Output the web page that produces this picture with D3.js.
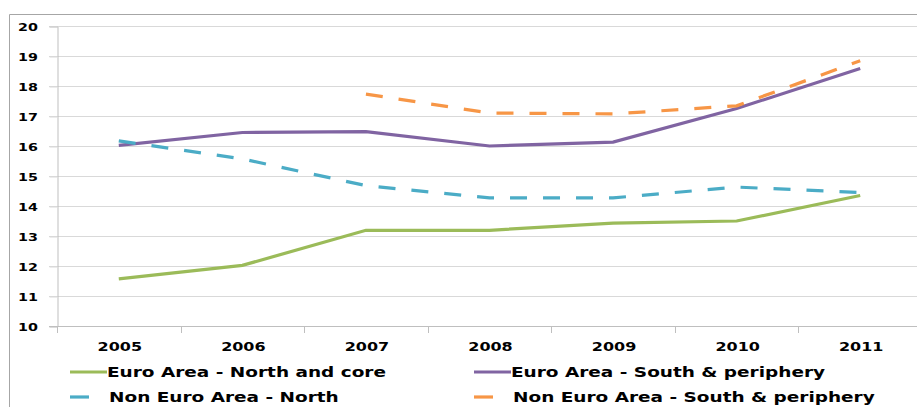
<!DOCTYPE html>
<html>
<head>
<meta charset="utf-8">
<script src="https://cdn.jsdelivr.net/npm/d3@7"></script>
<style>
  body { margin: 0; background: #fff; }
  svg { display: block; }
  svg text { font-family: "DejaVu Sans", Verdana, sans-serif; font-weight: bold; fill: #000; }
</style>
</head>
<body>
<script>
const years = ["2005", "2006", "2007", "2008", "2009", "2010", "2011"];
const yTicks = [10, 11, 12, 13, 14, 15, 16, 17, 18, 19, 20];

const euroNorth = [11.57, 12.02, 13.19, 13.19, 13.43, 13.5, 14.35];
const euroSouth = [16.02, 16.45, 16.48, 16.0, 16.13, 17.25, 18.58];
const nonEuroNorth = [16.17, 15.57, 14.68, 14.27, 14.27, 14.63, 14.45];
const nonEuroSouth = [null, null, 17.73, 17.1, 17.07, 17.34, 18.84];

const series = [
  {name: "Euro Area - North and core", values: euroNorth, color: "#9BBB59", dash: null},
  {name: "Euro Area - South & periphery", values: euroSouth, color: "#8064A2", dash: null},
  {name: "Non Euro Area - North", values: nonEuroNorth, color: "#4BACC6", dash: "17,16"},
  {name: "Non Euro Area - South & periphery", values: nonEuroSouth, color: "#F79646", dash: "17,16"}
];

const width = 917, height = 407;
const stretch = 1.3; // the original text is drawn wide

const svg = d3.select("body").append("svg")
    .attr("width", width)
    .attr("height", height);

// chart frame
svg.append("path")
    .attr("d", `M9.5,${height}V14.5H${width}`)
    .attr("fill", "none")
    .attr("stroke", "#a6a6a6");

const x = d3.scaleBand()
    .domain(years)
    .range([57, 922]);

const y = d3.scaleLinear()
    .domain([10, 20])
    .range([326, 26]);

// gridlines
svg.append("g")
  .selectAll("line")
  .data(yTicks.slice(1))
  .join("line")
    .attr("x1", 49)
    .attr("x2", width)
    .attr("y1", d => Math.round(y(d)) + 0.5)
    .attr("y2", d => Math.round(y(d)) + 0.5)
    .attr("stroke", "#d9d9d9");

// y axis
const yAxis = svg.append("g")
    .attr("transform", "translate(57.5,0.5)")
    .call(d3.axisLeft(y).tickValues(yTicks).tickSize(8));
yAxis.attr("font-family", null).attr("font-size", null);
yAxis.select(".domain").attr("stroke", "#bfbfbf");
yAxis.selectAll(".tick line").attr("stroke", "#d9d9d9");
yAxis.selectAll("text")
    .attr("x", 0)
    .attr("font-size", 11)
    .attr("transform", `translate(-19.5,0) scale(${stretch},1)`);

// x axis
const xAxis = svg.append("g")
    .attr("transform", "translate(0,326.5)")
    .call(d3.axisBottom(x).tickSize(0));
xAxis.attr("font-family", null).attr("font-size", null);
xAxis.select(".domain").attr("stroke", "#bfbfbf").attr("d", "M49,0H" + width);
xAxis.selectAll("text")
    .attr("y", 0)
    .attr("dy", "0.36em")
    .attr("font-size", 12.3)
    .attr("transform", `translate(1,20) scale(${stretch},1)`);
svg.append("g")
  .selectAll("line")
  .data(years)
  .join("line")
    .attr("x1", d => Math.round(x(d)) + 0.5)
    .attr("x2", d => Math.round(x(d)) + 0.5)
    .attr("y1", 326)
    .attr("y2", 333)
    .attr("stroke", "#bfbfbf");

const line = d3.line()
    .defined(d => d != null)
    .x((d, i) => x(years[i]) + x.bandwidth() / 2)
    .y(d => y(d));

svg.append("g")
  .selectAll("path")
  .data(series)
  .join("path")
    .attr("d", d => line(d.values))
    .attr("fill", "none")
    .attr("stroke", d => d.color)
    .attr("stroke-width", 3.2)
    .attr("stroke-dasharray", d => d.dash);

// legend
const legendPos = [[70, 372], [474, 372], [70, 397], [474, 397]];
const legend = svg.append("g")
  .selectAll("g")
  .data(series)
  .join("g")
    .attr("transform", (d, i) => `translate(${legendPos[i][0]},${legendPos[i][1]})`);

legend.append("line")
    .attr("x1", 0)
    .attr("x2", d => d.dash ? 19 : 37)
    .attr("stroke", d => d.color)
    .attr("stroke-width", 3.2);

legend.append("text")
    .attr("transform", d => `translate(${d.dash ? 39 : 37},0) scale(1.32,1)`)
    .attr("dy", "0.36em")
    .attr("font-size", 14)
    .text(d => d.name);
</script>
</body>
</html>
